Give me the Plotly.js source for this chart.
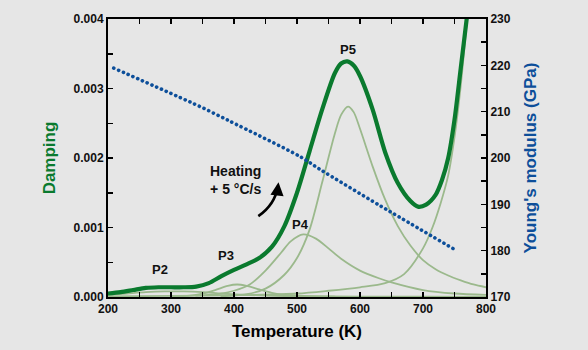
<!DOCTYPE html>
<html>
<head>
<meta charset="utf-8">
<script src="https://cdn.plot.ly/plotly-3.0.1.min.js"></script>
<style>
  html, body { margin: 0; padding: 0; background: #e6e6e6; }
  #chart { width: 588px; height: 350px; }
  path.js-line { stroke-linecap: round; }
</style>
</head>
<body>
<div id="chart"></div>
<script>
// ---- Data (damping values in units of 1e-3, converted below) ----
const totalT = [200,220,240,260,280,300,320,340,360,380,400,420,440,460,480,500,520,540,560,570,580,590,600,620,640,660,680,692,705,720,730,740,750,760,770,776];
const totalD = [0.05,0.07,0.10,0.13,0.14,0.14,0.14,0.15,0.20,0.30,0.39,0.47,0.56,0.72,1.02,1.50,2.10,2.70,3.22,3.36,3.39,3.33,3.18,2.70,2.08,1.64,1.38,1.30,1.33,1.47,1.68,2.00,2.55,3.30,4.05,4.50];

const p2T = [200,230,260,290,320,350,380,410,450,500,600,700,800];
const p2D = [0.03,0.05,0.07,0.08,0.08,0.07,0.05,0.035,0.02,0.012,0.006,0.004,0.003];

const p3T = [300,330,350,370,390,405,420,440,460,480,510,560];
const p3D = [0.01,0.02,0.05,0.10,0.16,0.18,0.16,0.11,0.06,0.03,0.015,0.005];

const p4T = [340,380,400,425,450,475,490,510,530,550,570,600,630,650,700,750,800];
const p4D = [0.02,0.05,0.09,0.18,0.38,0.64,0.80,0.90,0.84,0.70,0.55,0.38,0.27,0.21,0.10,0.05,0.03];

const p5T = [380,420,450,480,500,520,540,560,570,581,590,600,620,640,660,680,700,720,740,760,780,800];
const p5D = [0.01,0.04,0.12,0.32,0.56,0.97,1.65,2.35,2.62,2.74,2.66,2.42,1.88,1.40,1.02,0.74,0.53,0.40,0.31,0.24,0.18,0.14];

const bgT = [200,300,400,500,550,600,640,670,700,715,728,740,750,760,770,776];
const bgD = [0.01,0.015,0.025,0.05,0.09,0.14,0.20,0.33,0.70,1.00,1.35,1.75,2.30,3.05,4.00,4.60];

const modT = [209,346,394,505,537,632,751];
const modG = [219.4,211.1,207.9,200.3,197.5,189.7,180.2];

const xTicks = [200,300,400,500,600,700,800];
const yTicks = [0,0.001,0.002,0.003,0.004];
const y2Ticks = [170,180,190,200,210,220,230];

// ---- Styles ----
const FONT = '"Liberation Sans", Arial, Helvetica, sans-serif';
const DARK_GREEN = '#0a7a2e';
const LIGHT_GREEN = '#9bb98c';
const BLUE = '#0d4f9a';
const BG = '#e6e6e6';

const sc = a => a.map(v => v * 1e-3);

function comp(T, D) {
  return { x: T, y: sc(D), type: 'scatter', mode: 'lines',
           line: { color: LIGHT_GREEN, width: 1.8, shape: 'spline', smoothing: 0.8 },
           hoverinfo: 'skip', cliponaxis: true };
}

const traces = [
  comp(p2T, p2D), comp(p3T, p3D), comp(p4T, p4D), comp(p5T, p5D), comp(bgT, bgD),
  { x: modT, y: modG, yaxis: 'y2', type: 'scatter', mode: 'lines',
    line: { color: BLUE, width: 3.6, dash: '0.1px,5.1px', shape: 'spline', smoothing: 0.8 } },
  { x: totalT, y: sc(totalD), type: 'scatter', mode: 'lines',
    line: { color: DARK_GREEN, width: 4.2, shape: 'spline', smoothing: 0.8 } }
];

const tickF = { family: FONT, size: 12, color: '#111', weight: 700 };
const axisCommon = {
  showline: true, linecolor: '#000', linewidth: 2,
  ticks: 'inside', ticklen: 5, tickwidth: 1.5, tickcolor: '#000',
  showgrid: false, zeroline: false, tickfont: tickF, fixedrange: true
};

const layout = {
  width: 588, height: 350,
  margin: { l: 108, r: 102, t: 19, b: 53 },
  paper_bgcolor: BG, plot_bgcolor: BG,
  showlegend: false,
  font: { family: FONT },
  xaxis: Object.assign({}, axisCommon, {
    range: [200, 800], tickvals: xTicks, mirror: 'ticks',
    minor: { dtick: 50, tick0: 200, ticks: 'inside', ticklen: 5, tickwidth: 1.5, tickcolor: '#000' },
    title: { text: 'Temperature (K)', font: { family: FONT, size: 17, color: '#000', weight: 700 }, standoff: 10 }
  }),
  yaxis: Object.assign({}, axisCommon, {
    range: [0, 0.004], tickvals: yTicks, tickformat: '.3f',
    minor: { dtick: 0.0005, tick0: 0, ticks: 'inside', ticklen: 5, tickwidth: 1.5, tickcolor: '#000' },
    title: { text: 'Damping', font: { family: FONT, size: 17, color: DARK_GREEN, weight: 700 }, standoff: 14 }
  }),
  yaxis2: Object.assign({}, axisCommon, {
    overlaying: 'y', side: 'right', range: [170, 230], tickvals: y2Ticks,
    minor: { dtick: 5, tick0: 170, ticks: 'inside', ticklen: 5, tickwidth: 1.5, tickcolor: '#000' },
    title: { text: "Young's modulus (GPa)", font: { family: FONT, size: 17, color: BLUE, weight: 700 }, standoff: 14 }
  }),
  shapes: [
    { type: 'path', xref: 'x', yref: 'y',
      path: 'M 438.6,0.001163 Q 465,0.00133 469.5,0.001590',
      line: { color: '#000', width: 2.6 } }
  ],
  annotations: [
    { x: 282.5, y: 0.000396, text: 'P2', showarrow: false, font: { family: FONT, size: 13, color: '#111', weight: 700 } },
    { x: 388, y: 0.00060, text: 'P3', showarrow: false, font: { family: FONT, size: 13, color: '#111', weight: 700 } },
    { x: 506, y: 0.00105, text: 'P4', showarrow: false, font: { family: FONT, size: 13, color: '#111', weight: 700 } },
    { x: 580.5, y: 0.00356, text: 'P5', showarrow: false, font: { family: FONT, size: 13, color: '#111', weight: 700 } },
    { x: 403, y: 0.00169, text: 'Heating<br>+ 5 °C/s', showarrow: false, align: 'center',
      font: { family: FONT, size: 14, color: '#111', weight: 700 } },
    { x: 470.6, y: 0.00165, xref: 'x', yref: 'y', text: '', showarrow: true,
      ax: -1, ay: 9, arrowhead: 2, arrowsize: 1.1, arrowwidth: 2.4, arrowcolor: '#000' }
  ]
};

Plotly.newPlot('chart', traces, layout, { staticPlot: true, displayModeBar: false });
</script>
</body>
</html>
